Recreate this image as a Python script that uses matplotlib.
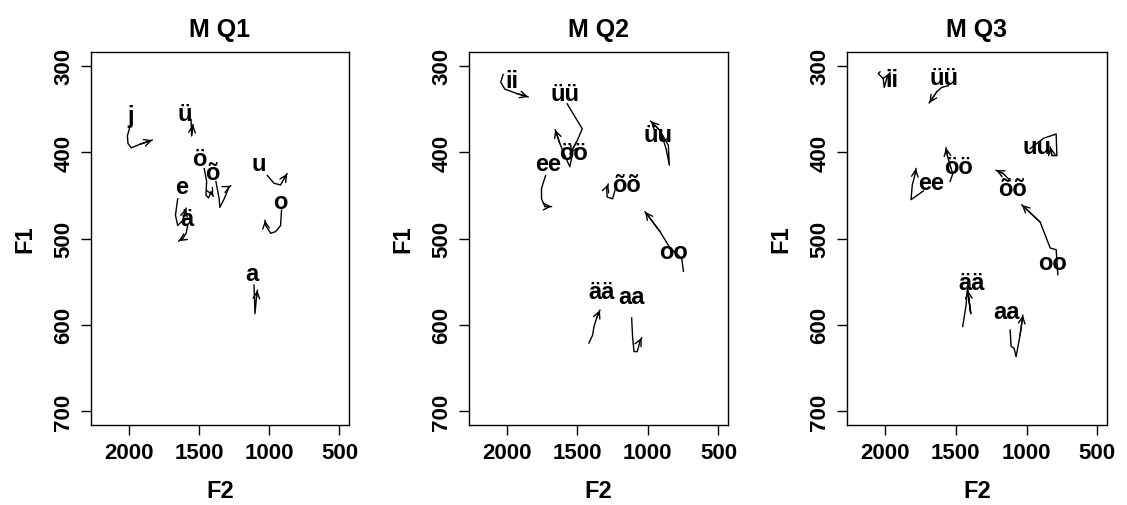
import matplotlib
matplotlib.use("Agg")
import matplotlib.pyplot as plt

plt.rcParams['font.family'] = ['Liberation Sans', 'DejaVu Sans']
plt.rcParams['font.weight'] = 'bold'

titles = ["M Q1", "M Q2", "M Q3"]
x_ticks = [2000, 1500, 1000, 500]
y_ticks = [300, 400, 500, 600, 700]

# ---- Panel 1 (M Q1) ----
q1_labels = ["j", "ü", "ö", "õ", "e", "ä", "u", "o", "a"]
q1_label_f2 = [1988, 1598, 1497, 1403, 1623, 1584, 1072, 919, 1120]
q1_label_f1 = [358, 355, 407, 423, 440, 477, 413, 457, 540]
q1_f2 = [
    [1988, 2009, 2005, 1981, 1922, 1832],
    [1556, 1552, 1542],
    [1462, 1445, 1450, 1431, 1414, 1398],
    [1379, 1356, 1351, 1320, 1285, 1273],
    [1651, 1667, 1651, 1615, 1591],
    [1580, 1591, 1615, 1644],
    [1013, 966, 919, 895, 872],
    [912, 919, 954, 989, 1025, 1030],
    [1108, 1101, 1091, 1084],
]
q1_f1 = [
    [369, 381, 390, 395, 391, 386],
    [362, 381, 368],
    [419, 434, 450, 453, 446, 451],
    [434, 454, 464, 454, 440, 439],
    [454, 473, 485, 479, 465],
    [485, 494, 500, 503],
    [427, 436, 438, 431, 425],
    [467, 485, 492, 494, 485, 479],
    [554, 587, 569, 560],
]

# ---- Panel 2 (M Q2) ----
q2_labels = ["ii", "üü", "öö", "ee", "õõ", "üu", "oo", "ää", "aa"]
q2_label_f2 = [1967, 1588, 1529, 1707, 1150, 926, 819, 1328, 1115]
q2_label_f1 = [317, 332, 400, 413, 437, 380, 515, 561, 567]
q2_f2 = [
    [2026, 2043, 2014, 1931, 1849],
    [1572, 1517, 1465, 1505, 1553],
    [1541, 1553, 1588, 1624, 1657],
    [1725, 1754, 1754, 1730, 1683],
    [1233, 1250, 1288, 1292, 1281],
    [902, 871, 848, 855, 914, 980],
    [748, 760, 843, 914, 1020],
    [1418, 1392, 1382, 1363, 1340],
    [1115, 1108, 1098, 1075, 1056, 1044],
]
q2_f1 = [
    [310, 319, 327, 332, 336],
    [344, 359, 373, 388, 402],
    [407, 417, 404, 390, 374],
    [427, 442, 454, 463, 463],
    [444, 454, 452, 442, 437],
    [380, 396, 415, 392, 375, 364],
    [538, 523, 511, 492, 469],
    [621, 612, 602, 592, 583],
    [592, 615, 631, 631, 619, 615],
]

# ---- Panel 3 (M Q3) ----
q3_labels = ["ii", "üü", "uu", "öö", "ee", "õõ", "oo", "ää", "aa"]
q3_label_f2 = [1948, 1580, 928, 1482, 1675, 1097, 818, 1387, 1140]
q3_label_f1 = [316, 314, 393, 417, 435, 442, 528, 551, 585]
q3_f2 = [
    [2035, 2047, 2012, 2005, 1988, 1965],
    [1552, 1599, 1634, 1687],
    [975, 881, 791, 786, 821, 833],
    [1540, 1521, 1540, 1559, 1569],
    [1729, 1816, 1807, 1786, 1781],
    [1116, 1163, 1215],
    [779, 791, 833, 904, 1034],
    [1451, 1427, 1418, 1394, 1415],
    [1116, 1109, 1088, 1074, 1046, 1026],
]
q3_f1 = [
    [307, 309, 315, 325, 315, 308],
    [323, 325, 330, 343],
    [396, 384, 379, 404, 404, 394],
    [434, 425, 415, 404, 395],
    [445, 455, 438, 425, 419],
    [433, 425, 421],
    [542, 513, 511, 481, 461],
    [602, 577, 558, 587, 560],
    [606, 625, 627, 637, 612, 589],
]

panels = [
    (q1_labels, q1_label_f2, q1_label_f1, q1_f2, q1_f1),
    (q2_labels, q2_label_f2, q2_label_f1, q2_f2, q2_f1),
    (q3_labels, q3_label_f2, q3_label_f1, q3_f2, q3_f1),
]

W, H = 1127, 506
fig = plt.figure(figsize=(W / 100, H / 100), dpi=100)
lefts = [91, 469, 847]
widths = [258, 259, 260]
top_px, bot_px = 53, 426

for i, (labs, lx, ly, tf2, tf1) in enumerate(panels):
    ax = fig.add_axes([lefts[i] / W, 1 - bot_px / H, widths[i] / W, (bot_px - top_px) / H])
    ax.set_xlim(2268, 432)
    ax.set_ylim(716, 284)
    for xs, ys in zip(tf2, tf1):
        ax.plot(xs, ys, color='black', lw=1.0, solid_joinstyle='round')
        ax.annotate('', xy=(xs[-1], ys[-1]), xytext=(xs[-2], ys[-2]),
                    arrowprops=dict(arrowstyle='->', lw=1.0, color='black',
                                    mutation_scale=12, shrinkA=0, shrinkB=0))
    for t, x, y in zip(labs, lx, ly):
        ax.text(x, y, t, ha='center', va='center', fontsize=17, fontweight='bold')
    ax.set_xticks(x_ticks)
    ax.set_yticks(y_ticks)
    ax.set_xticklabels([str(v) for v in x_ticks])
    ax.set_yticklabels([str(v) for v in y_ticks], rotation=90, va='center')
    ax.tick_params(axis='both', direction='out', length=7, width=1,
                   labelsize=16, colors='black')
    ax.tick_params(axis='x', pad=5)
    ax.tick_params(axis='y', pad=5)
    for lab in ax.get_xticklabels() + ax.get_yticklabels():
        lab.set_fontweight('bold')
    for sp in ax.spines.values():
        sp.set_linewidth(1)
    ax.set_xlabel('F2', fontsize=17, fontweight='bold', va='center')
    ax.set_ylabel('F1', fontsize=17, fontweight='bold', va='center')
    ax.xaxis.set_label_coords(0.5, (bot_px - 492) / (bot_px - top_px))
    ax.yaxis.set_label_coords(-66 / widths[i], 0.5)
    ax.set_title(titles[i], y=(bot_px - 30) / (bot_px - top_px), va='center',
                 fontsize=18, fontweight='bold', pad=0)

fig.savefig('out.png', dpi=100)
